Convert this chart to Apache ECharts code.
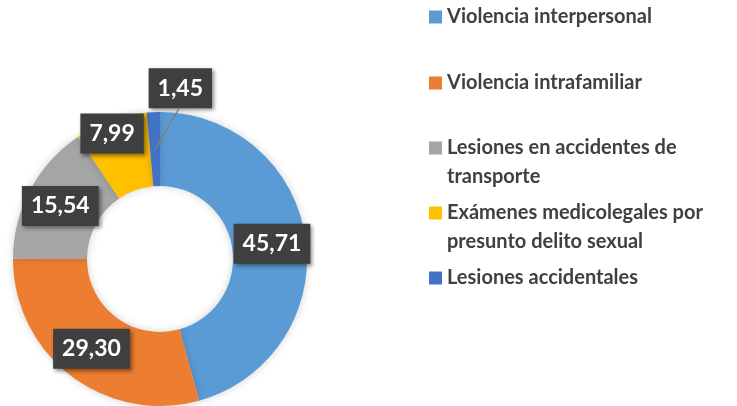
<!DOCTYPE html>
<html><head><meta charset="utf-8">
<script src="https://cdn.jsdelivr.net/npm/echarts@6/dist/echarts.min.js"></script>
<style>html,body{margin:0;padding:0;background:#fff}#c{width:737px;height:406px}</style>
</head><body><div id="c"></div>
<script>
const categories = ['Violencia interpersonal', 'Violencia intrafamiliar', 'Lesiones en accidentes de transporte', 'Exámenes medicolegales por presunto delito sexual', 'Lesiones accidentales'];
const legendLabels = ['Violencia interpersonal', 'Violencia intrafamiliar', 'Lesiones en accidentes de\ntransporte', 'Exámenes medicolegales por\npresunto delito sexual', 'Lesiones accidentales'];
const values = [45.71, 29.30, 15.54, 7.99, 1.45];
const colors = ['#5B9BD5', '#ED7D31', '#A5A5A5', '#FFC000', '#4472C4'];

const CX = 160, CY = 259, R0 = 73, R1 = 147;
const legendTops = [2.5, 68.5, 104.5, 169.5, 263.5];
const FONT = 'Lato';
const SMALL = 4; // index of the slice whose label sits outside with a leader line
const SMALL_OFF = [27, -24]; // label offset from the slice's outer edge

const chart = echarts.init(document.getElementById('c'), null, {renderer: 'canvas'});
const total = values.reduce((a, b) => a + b, 0);

function midAngle(i) {
  let s = 0;
  for (let k = 0; k < i; k++) s += values[k];
  return (s + values[i] / 2) / total * Math.PI * 2;
}
function polar(a, r) { return [CX + r * Math.sin(a), CY - r * Math.cos(a)]; }

const aSmall = midAngle(SMALL);
const outerPt = polar(aSmall, R1);
const startPt = polar(aSmall, (R0 + R1) / 2);
const labelPt = [outerPt[0] + SMALL_OFF[0], outerPt[1] + SMALL_OFF[1]];
const endPt = [labelPt[0] - 1, labelPt[1] + 20];

const legends = categories.map((name, i) => ({
  data: [name],
  left: 429,
  top: legendTops[i],
  padding: 0,
  itemWidth: 13,
  itemHeight: 13,
  itemGap: 0,
  icon: 'rect',
  selectedMode: false,
  formatter: () => (legendLabels[i].indexOf('\n') >= 0 ? '\n' : '') + legendLabels[i],
  textStyle: {
    fontFamily: FONT,
    fontWeight: 'bold',
    fontSize: 20,
    color: '#404040',
    lineHeight: 29
  }
}));

chart.setOption({
  animation: false,
  legend: legends,
  graphic: [{
    type: 'polyline',
    z: 100,
    shape: {points: [startPt, endPt]},
    style: {stroke: '#7f7f7f', lineWidth: 1.5, fill: null}
  }],
  series: [{
    type: 'pie',
    center: [CX, CY],
    radius: [R0, R1],
    startAngle: 90,
    clockwise: true,
    avoidLabelOverlap: false,
    itemStyle: {shadowBlur: 8, shadowColor: 'rgba(0,0,0,0.18)'},
    label: {
      show: true,
      position: 'inside',
      formatter: p => p.value.toFixed(2).replace('.', ','),
      fontFamily: FONT,
      fontWeight: 'bold',
      fontSize: 23,
      lineHeight: 24,
      color: '#fff',
      backgroundColor: '#3f3f3f',
      padding: [8, 9, 8, 9],
      shadowBlur: 4,
      shadowColor: 'rgba(0,0,0,0.45)',
      shadowOffsetX: 2,
      shadowOffsetY: 2
    },
    labelLine: {show: false},
    labelLayout: function (p) {
      if (p.dataIndex === 3) return {dx: -10, dy: -19};
      if (p.dataIndex === SMALL) {
        return {x: labelPt[0], y: labelPt[1], align: 'center', verticalAlign: 'middle'};
      }
    },
    data: categories.map((name, i) => ({name: name, value: values[i], itemStyle: {color: colors[i]}}))
  }]
});
</script>
</body></html>
